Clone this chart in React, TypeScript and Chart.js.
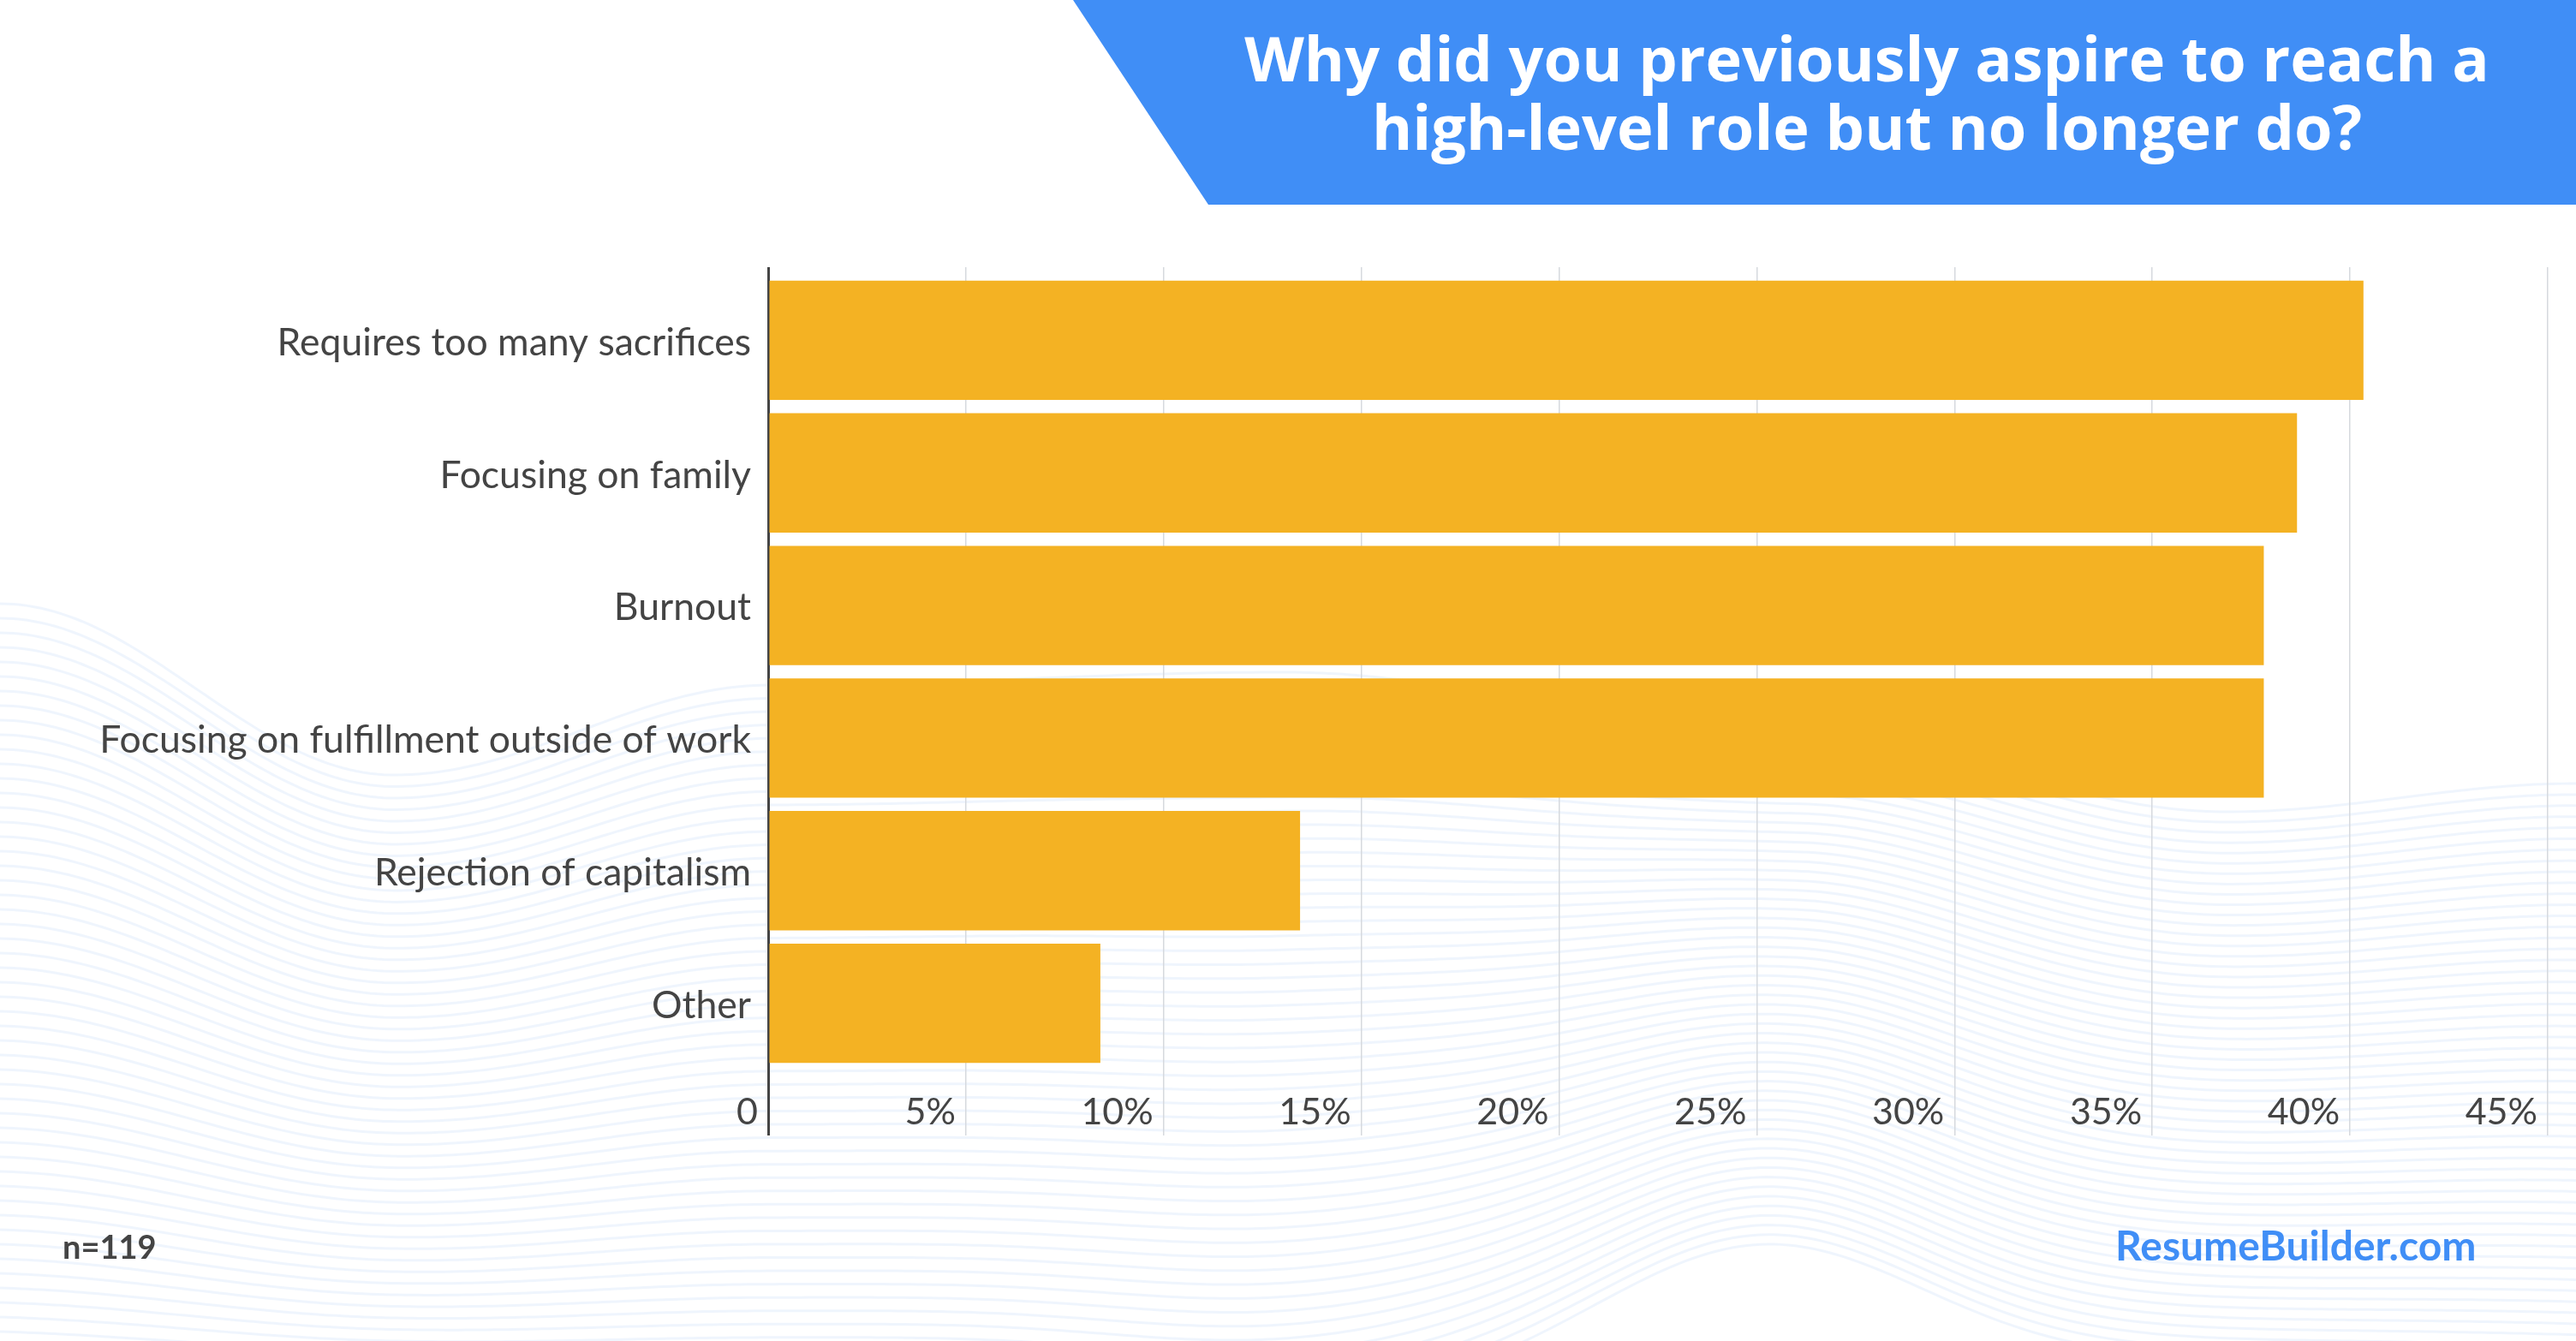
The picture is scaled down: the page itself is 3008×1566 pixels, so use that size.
import React, { useEffect, useRef } from "react";
import { Chart, registerables } from "chart.js";

Chart.register(...registerables);

// Survey answers (share of respondents, %)
const categories = [
  "Requires too many sacrifices",
  "Focusing on family",
  "Burnout",
  "Focusing on fulfillment outside of work",
  "Rejection of capitalism",
  "Other",
];
const shares = [40.34, 38.66, 37.82, 37.82, 13.45, 8.4];

// Value axis
const axisMin = 0;
const axisMax = 45;
const tickStep = 5;

// Texts
const titleLines = [
  "Why did you previously aspire to reach a",
  "high-level role but no longer do?",
];
const sampleNote = "n=119";
const brandName = "ResumeBuilder.com";

const W = 3008;
const H = 1566;
const BLUE = "#408ef6";
const BAR = "#f4b223";
const INK = "#444444";
const GRID = "#d6d9de";
const FONT = "Lato, 'Open Sans', sans-serif";
const TITLE_FONT = "'Open Sans', Lato, sans-serif";

// smooth interpolation through control points (cosine easing)
function smoothPath(pts: number[][], x: number): number {
  if (x <= pts[0][0]) return pts[0][1];
  for (let i = 0; i < pts.length - 1; i++) {
    const [x0, y0] = pts[i];
    const [x1, y1] = pts[i + 1];
    if (x >= x0 && x <= x1) {
      const t = (x - x0) / (x1 - x0);
      const e = (1 - Math.cos(Math.PI * t)) / 2;
      return y0 + (y1 - y0) * e;
    }
  }
  return pts[pts.length - 1][1];
}

const waveTop = [
  [0, 705],
  [460, 905],
  [900, 800],
  [1500, 785],
  [2100, 860],
  [2600, 948],
  [3008, 915],
];

// decorative background: a field of faint flowing lines
const wavePlugin = {
  id: "waveBackground",
  beforeDraw(chart: any) {
    const ctx = chart.ctx as CanvasRenderingContext2D;
    ctx.save();
    ctx.strokeStyle = "rgba(214,229,250,0.38)";
    ctx.lineWidth = 3;
    const n = 54;
    for (let i = 0; i < n; i++) {
      const t = i / (n - 1);
      ctx.beginPath();
      for (let x = 0; x <= W; x += 8) {
        const top = smoothPath(waveTop, x) - 705;
        const bottom =
          -140 * Math.exp(-Math.pow((x - 2060) / 260, 2)) +
          35 * Math.exp(-Math.pow((x - 1480) / 260, 2)) +
          18 * Math.sin(x / 520);
        const y = 705 + i * 17 + (1 - t) * top + t * bottom;
        if (x === 0) ctx.moveTo(x, y);
        else ctx.lineTo(x, y);
      }
      ctx.stroke();
    }
    ctx.restore();
  },
};

// header banner, sample size and brand
const decorPlugin = {
  id: "decorations",
  afterDraw(chart: any) {
    const ctx = chart.ctx as CanvasRenderingContext2D;
    ctx.save();
    ctx.fillStyle = BLUE;
    ctx.beginPath();
    ctx.moveTo(1253, 0);
    ctx.lineTo(W, 0);
    ctx.lineTo(W, 239);
    ctx.lineTo(1411, 239);
    ctx.closePath();
    ctx.fill();

    ctx.fillStyle = "#ffffff";
    ctx.font = `bold 72px ${TITLE_FONT}`;
    ctx.textAlign = "center";
    ctx.textBaseline = "alphabetic";
    ctx.fillText(titleLines[0], 2180, 95);
    ctx.fillText(titleLines[1], 2180, 175);

    ctx.textAlign = "left";
    ctx.fillStyle = INK;
    ctx.font = `bold 38px ${FONT}`;
    ctx.fillText(sampleNote, 73, 1470);

    ctx.fillStyle = BLUE;
    ctx.font = `bold 48px ${FONT}`;
    ctx.fillText(brandName, 2470, 1472);
    ctx.restore();
  },
};

const gridColor = (c: any) => (c.tick && c.tick.value === 0 ? INK : GRID);
const gridWidth = (c: any) => (c.tick && c.tick.value === 0 ? 3 : 1.5);

export default function App() {
  const canvasRef = useRef<HTMLCanvasElement | null>(null);

  useEffect(() => {
    document.body.style.margin = "0";
    const canvas = canvasRef.current;
    if (!canvas) return;
    const chart = new Chart(canvas, {
      type: "bar",
      data: {
        labels: categories,
        datasets: [
          {
            data: shares,
            backgroundColor: BAR,
            borderWidth: 0,
            categoryPercentage: 1,
            barPercentage: 0.9,
          },
        ],
      },
      plugins: [wavePlugin, decorPlugin],
      options: {
        indexAxis: "y",
        responsive: false,
        animation: false,
        devicePixelRatio: 1,
        layout: { padding: { left: 0, right: 33, top: 312, bottom: 217 } },
        plugins: {
          legend: { display: false },
          tooltip: { enabled: false },
        },
        scales: {
          y: {
            type: "category",
            grid: { display: false, drawTicks: false },
            border: { display: true, color: INK, width: 3 },
            ticks: {
              color: INK,
              font: { family: FONT, size: 44.5 },
              padding: 20,
              labelOffset: 3,
            },
            afterFit(scale: any) {
              scale.width = 897;
            },
          },
          x: {
            type: "linear",
            position: "bottom",
            min: axisMin,
            max: axisMax,
            grid: {
              color: gridColor,
              lineWidth: gridWidth,
              drawTicks: true,
              tickLength: 77,
            },
            border: { display: false },
            ticks: {
              stepSize: tickStep,
              align: "end",
              labelOffset: -12,
              padding: -53,
              color: INK,
              font: { family: FONT, size: 43 },
              callback: (v: any) => (Number(v) === 0 ? "0" : `${v}%`),
            },
            afterFit(scale: any) {
              scale.height = 100;
            },
          },
          x2: {
            type: "linear",
            position: "top",
            min: axisMin,
            max: axisMax,
            grid: {
              color: gridColor,
              lineWidth: gridWidth,
              drawOnChartArea: false,
              drawTicks: true,
              tickLength: 8,
            },
            border: { display: false },
            ticks: { stepSize: tickStep, display: false },
            afterFit(scale: any) {
              scale.height = 8;
            },
          },
        },
      } as any,
    });
    return () => chart.destroy();
  }, []);

  return (
    <canvas
      ref={canvasRef}
      width={W}
      height={H}
      style={{ display: "block", width: W, height: H }}
    />
  );
}
